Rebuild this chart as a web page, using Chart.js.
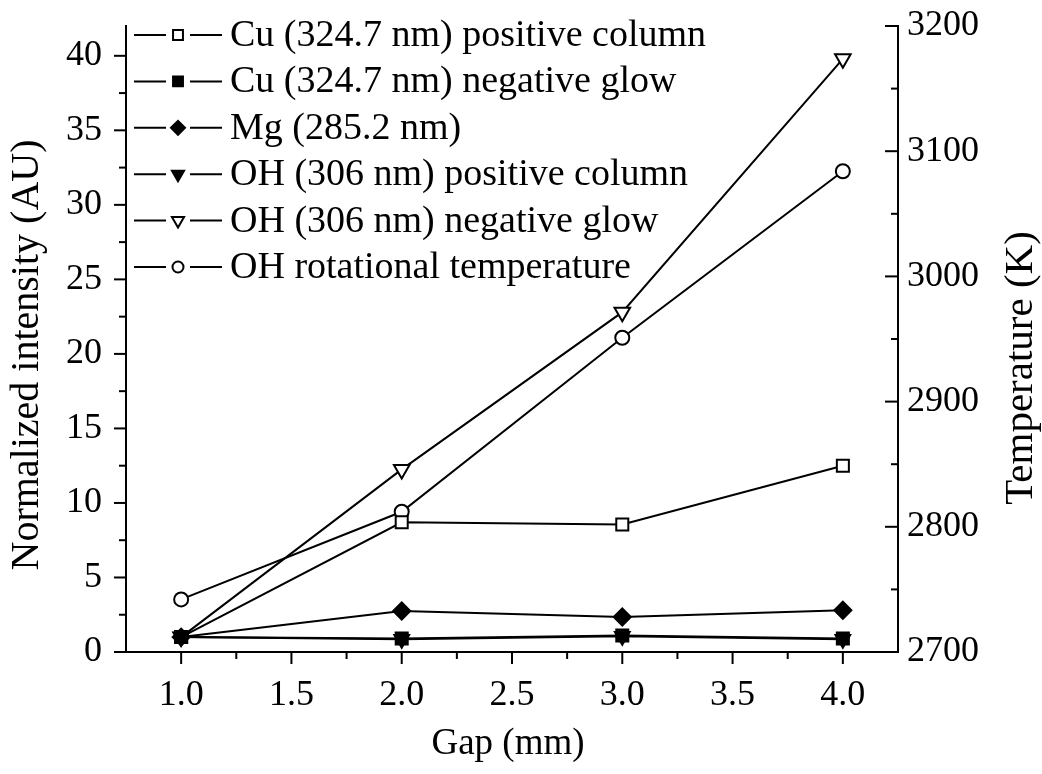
<!DOCTYPE html>
<html>
<head>
<meta charset="utf-8">
<script src="https://cdn.jsdelivr.net/npm/chart.js@4.4.1/dist/chart.umd.min.js"></script>
<style>
  html, body { margin: 0; padding: 0; background: #fff; }
  #wrap { width: 1042px; height: 774px; }
</style>
</head>
<body>
<div id="wrap"><canvas id="chart" width="1042" height="774"></canvas></div>
<script>
// values
const gapValues = [1.0, 2.0, 3.0, 4.0];
const cuPositiveColumn = [1.0, 8.7, 8.55, 12.5];
const cuNegativeGlow = [1.0, 0.9, 1.1, 0.9];
const mgIntensity = [1.0, 2.75, 2.35, 2.8];
const ohPositiveColumn = [1.0, 0.85, 1.05, 0.85];
const ohNegativeGlow = [1.0, 12.25, 22.8, 39.8];
const ohTemperature = [2742, 2812, 2951, 3084];

const seriesLabels = [
    'Cu (324.7 nm) positive column',
    'Cu (324.7 nm) negative glow',
    'Mg (285.2 nm)',
    'OH (306 nm) positive column',
    'OH (306 nm) negative glow',
    'OH rotational temperature'
];

const gapTicks = [1.0, 1.5, 2.0, 2.5, 3.0, 3.5, 4.0];
const gapMinorTicks = [1.25, 1.75, 2.25, 2.75, 3.25, 3.75];
const intensityTicks = [0, 5, 10, 15, 20, 25, 30, 35, 40];
const intensityMinorTicks = [2.5, 7.5, 12.5, 17.5, 22.5, 27.5, 32.5, 37.5];
const tempTicks = [2700, 2800, 2900, 3000, 3100, 3200];
const tempMinorTicks = [2750, 2850, 2950, 3050, 3150];

const FONT = 'Liberation Serif';

function pts(values) {
    return values.map((v, i) => ({ x: gapValues[i], y: v }));
}

const markerStyles = [
    { pointStyle: 'rect', radius: 8.5, fill: '#fff', rotation: 0 },
    { pointStyle: 'rect', radius: 8.5, fill: '#000', rotation: 0 },
    { pointStyle: 'rectRot', radius: 8.5, fill: '#000', rotation: 0 },
    { pointStyle: 'triangle', radius: 8.5, fill: '#000', rotation: 180 },
    { pointStyle: 'triangle', radius: 9, fill: '#fff', rotation: 180 },
    { pointStyle: 'circle', radius: 7, fill: '#fff', rotation: 0 }
];
const seriesValues = [cuPositiveColumn, cuNegativeGlow, mgIntensity, ohPositiveColumn, ohNegativeGlow, ohTemperature];
const drawOrder = [2, 0, 1, 0, 2, 3];

const datasets = seriesValues.map((vals, i) => ({
    label: seriesLabels[i],
    data: pts(vals),
    yAxisID: i === 5 ? 'y2' : 'y',
    borderColor: '#000',
    borderWidth: 2,
    pointStyle: markerStyles[i].pointStyle,
    pointRadius: markerStyles[i].radius,
    pointRotation: markerStyles[i].rotation,
    pointBackgroundColor: markerStyles[i].fill,
    pointBorderColor: '#000',
    pointBorderWidth: 2,
    tension: 0,
    fill: false,
    order: drawOrder[i]
}));

// minor / major tick marks: x & left axis outward, right axis inward
const tickMarks = {
    id: 'tickMarks',
    afterDraw(chart) {
        const { ctx, chartArea, scales } = chart;
        ctx.save();
        ctx.strokeStyle = '#000';
        ctx.lineWidth = 2;
        const line = (x1, y1, x2, y2) => {
            ctx.beginPath();
            ctx.moveTo(x1, y1);
            ctx.lineTo(x2, y2);
            ctx.stroke();
        };
        gapTicks.forEach(v => { const p = scales.x.getPixelForValue(v); line(p, chartArea.bottom, p, chartArea.bottom + 12); });
        gapMinorTicks.forEach(v => { const p = scales.x.getPixelForValue(v); line(p, chartArea.bottom, p, chartArea.bottom + 7); });
        intensityTicks.forEach(v => { const p = scales.y.getPixelForValue(v); line(chartArea.left - 12, p, chartArea.left, p); });
        intensityMinorTicks.forEach(v => { const p = scales.y.getPixelForValue(v); line(chartArea.left - 7, p, chartArea.left, p); });
        tempTicks.forEach(v => { const p = scales.y2.getPixelForValue(v); line(chartArea.right - 13, p, chartArea.right, p); });
        tempMinorTicks.forEach(v => { const p = scales.y2.getPixelForValue(v); line(chartArea.right - 7, p, chartArea.right, p); });
        ctx.restore();
    }
};

// axis titles placed like the figure
function drawTitle(ctx, text, x, y, size, rotate) {
    ctx.save();
    ctx.fillStyle = '#000';
    ctx.font = size + 'px "' + FONT + '"';
    ctx.textAlign = 'center';
    ctx.textBaseline = 'middle';
    ctx.translate(x, y);
    if (rotate) ctx.rotate(-Math.PI / 2);
    ctx.fillText(text, 0, 0);
    ctx.restore();
}
const axisTitles = {
    id: 'axisTitles',
    afterDraw(chart) {
        const ctx = chart.ctx;
        drawTitle(ctx, 'Gap (mm)', 508, 744, 37, false);
        drawTitle(ctx, 'Normalized intensity (AU)', 27, 355, 40, true);
        drawTitle(ctx, 'Temperature (K)', 1021, 368, 41, true);
    }
};

// legend: —marker— label, inside plot top-left
const lineLegend = {
    id: 'lineLegend',
    afterDraw(chart) {
        const ctx = chart.ctx;
        ctx.save();
        seriesLabels.forEach((label, i) => {
            const y = 35 + i * 46.4;
            ctx.strokeStyle = '#000';
            ctx.lineWidth = 2;
            ctx.beginPath();
            ctx.moveTo(134, y); ctx.lineTo(166, y);
            ctx.moveTo(190, y); ctx.lineTo(222, y);
            ctx.stroke();
            ctx.fillStyle = markerStyles[i].fill;
            Chart.helpers.drawPoint(ctx, {
                pointStyle: markerStyles[i].pointStyle,
                radius: markerStyles[i].pointStyle === 'circle' ? 5.5 : 7,
                rotation: markerStyles[i].rotation,
                borderWidth: 2
            }, 178, y);
            ctx.fillStyle = '#000';
            ctx.font = '38px "' + FONT + '"';
            ctx.textAlign = 'left';
            ctx.textBaseline = 'middle';
            ctx.fillText(label, 230, y + 1);
        });
        ctx.restore();
    }
};

const noPad = s => { s.paddingTop = 0; s.paddingBottom = 0; s.paddingLeft = 0; s.paddingRight = 0; };

const chart = new Chart(document.getElementById('chart'), {
    type: 'line',
    data: { datasets: datasets },
    options: {
        responsive: false,
        animation: false,
        layout: { padding: { top: 26, left: 0, right: 0, bottom: 0 } },
        plugins: {
            legend: { display: false },
            tooltip: { enabled: false }
        },
        scales: {
            x: {
                type: 'linear',
                min: 0.75,
                max: 4.25,
                grid: { display: false, drawTicks: false },
                border: { display: true, color: '#000', width: 2 },
                afterBuildTicks: s => { s.ticks = gapTicks.map(v => ({ value: v })); },
                afterFit: s => { s.height = 122; noPad(s); },
                ticks: {
                    color: '#000',
                    padding: 22,
                    maxRotation: 0,
                    font: { family: FONT, size: 36 },
                    callback: v => v.toFixed(1)
                }
            },
            y: {
                type: 'linear',
                position: 'left',
                min: 0,
                max: 42,
                grid: { display: false, drawTicks: false },
                border: { display: true, color: '#000', width: 2 },
                afterBuildTicks: s => { s.ticks = intensityTicks.map(v => ({ value: v })); },
                afterFit: s => { s.width = 126; noPad(s); },
                ticks: {
                    color: '#000',
                    padding: 24,
                    font: { family: FONT, size: 36 },
                    callback: v => String(v)
                }
            },
            y2: {
                type: 'linear',
                position: 'right',
                min: 2700,
                max: 3200,
                grid: { display: false, drawTicks: false },
                border: { display: true, color: '#000', width: 2 },
                afterBuildTicks: s => { s.ticks = tempTicks.map(v => ({ value: v })); },
                afterFit: s => { s.width = 144; noPad(s); },
                ticks: {
                    color: '#000',
                    padding: 9,
                    font: { family: FONT, size: 36 },
                    callback: v => String(v)
                }
            }
        }
    },
    plugins: [tickMarks, axisTitles, lineLegend]
});
</script>
</body>
</html>
